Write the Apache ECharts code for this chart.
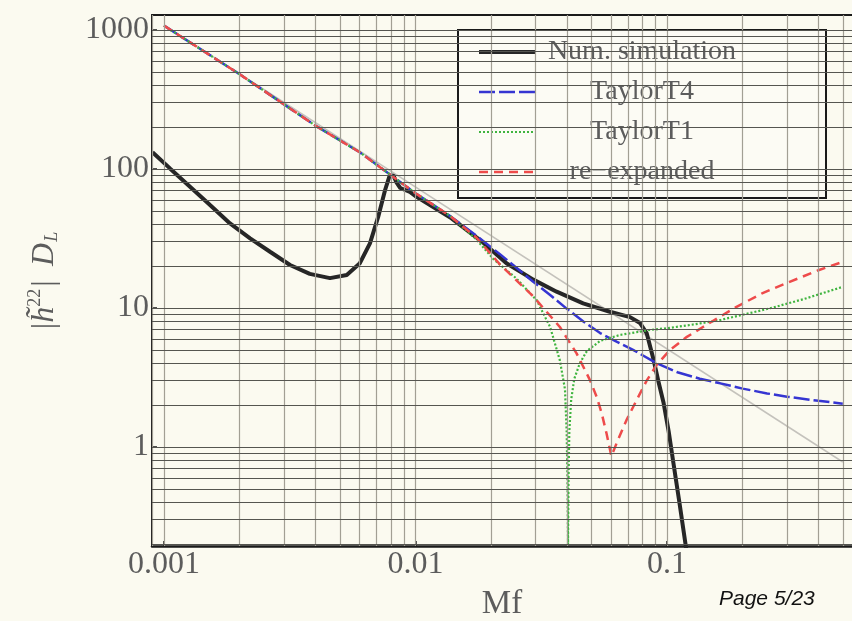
<!DOCTYPE html>
<html>
<head>
<meta charset="utf-8">
<script src="https://cdn.jsdelivr.net/npm/echarts@6/dist/echarts.min.js"></script>
<style>
  html, body { margin: 0; padding: 0; background: #fbfaf0; }
  #chart { width: 852px; height: 621px; }
</style>
</head>
<body>
<div id="chart"></div>
<script>
// Axis ticks (log-log) and the grid values drawn as thin rules
const xTickValues = [0.001, 0.01, 0.1];
const xTickLabels = ['0.001', '0.01', '0.1'];
const yTickValues = [1, 10, 100, 1000];
const yTickLabels = ['1', '10', '100', '1000'];

const xGridValues = [
  0.0009,
  0.001, 0.002, 0.003, 0.004, 0.005, 0.006, 0.007, 0.008, 0.009,
  0.01, 0.02, 0.03, 0.04, 0.05, 0.06, 0.07, 0.08, 0.09,
  0.1, 0.2, 0.3, 0.4, 0.5
];
const yGridValues = [
  0.2, 0.3, 0.4, 0.5, 0.6, 0.7, 0.8, 0.9,
  1, 2, 3, 4, 5, 6, 7, 8, 9,
  10, 20, 30, 40, 50, 60, 70, 80, 90,
  100, 200, 300, 400, 500, 600, 700, 800, 900,
  1000
];

const seriesNames = ['Num. simulation', 'TaylorT4', 'TaylorT1', 're\u2212expanded'];

// Leading-order (Newtonian) power law
const newtonian = [[0.001, 1085], [0.5, 0.78]];

// Numerical-relativity amplitude
const numSimulation = [
  [0.0009, 132], [0.001056, 101], [0.001269, 74.6], [0.001524, 55], [0.00183, 40.6],
  [0.0022, 31.7], [0.00264, 25.4], [0.00317, 20.4], [0.0038, 17.6], [0.00457, 16.4],
  [0.00533, 17.3], [0.00601, 21], [0.00659, 29.2], [0.00711, 45.4], [0.00757, 70.6],
  [0.00787, 88], [0.00817, 90], [0.0084, 80], [0.0087, 73], [0.0095, 68.5],
  [0.0101, 63], [0.0137, 45], [0.0186, 29.5], [0.023, 21], [0.0294, 16],
  [0.0364, 13.1], [0.0464, 10.8], [0.0593, 9.4], [0.0713, 8.6], [0.0781, 7.8],
  [0.083, 6.6], [0.0883, 4.3], [0.0923, 3.0], [0.0968, 2.1], [0.1015, 1.3],
  [0.1059, 0.78], [0.112, 0.4], [0.1195, 0.18]
];

// Post-Newtonian approximants
const taylorT4 = [
  [0.001, 1075], [0.002, 480], [0.004, 205], [0.006, 132], [0.008, 90],
  [0.01, 67], [0.0137, 46], [0.0175, 33], [0.0216, 24.5], [0.0252, 19.5],
  [0.0293, 15.5], [0.0345, 12.3], [0.0399, 9.9], [0.0465, 8.0], [0.0542, 6.6],
  [0.0633, 5.7], [0.0733, 5.0], [0.091, 4.0], [0.11, 3.45], [0.135, 3.1],
  [0.163, 2.87], [0.2, 2.63], [0.25, 2.43], [0.3, 2.3], [0.4, 2.15], [0.5, 2.05]
];

const taylorT1 = [
  [0.001, 1075], [0.002, 480], [0.004, 205], [0.006, 132], [0.008, 90],
  [0.01, 67], [0.0137, 46], [0.0175, 31], [0.0204, 22.5], [0.0252, 16.3],
  [0.0303, 11.4], [0.0343, 7.3], [0.0375, 4.2], [0.0393, 2.6], [0.0399, 1.3],
  [0.0402, 0.6], [0.0404, 0.2], [0.0406, 0.6], [0.0409, 1.3], [0.0416, 2.2],
  [0.0428, 3.1], [0.045, 4.0], [0.048, 4.9], [0.0542, 5.8], [0.065, 6.4],
  [0.0855, 6.95], [0.1028, 7.2], [0.13, 7.65], [0.163, 8.2], [0.257, 9.95],
  [0.35, 11.6], [0.5, 14.2]
];

const reExpanded = [
  [0.001, 1075], [0.002, 480], [0.004, 205], [0.006, 132], [0.008, 90],
  [0.01, 67], [0.0137, 46], [0.0175, 32], [0.0217, 20.5], [0.0294, 12.1],
  [0.0375, 7.3], [0.0437, 4.72], [0.0494, 3.03], [0.0525, 2.3], [0.055, 1.75],
  [0.0575, 1.25], [0.0601, 0.86], [0.0635, 1.1], [0.069, 1.56], [0.075, 2.1],
  [0.083, 3.0], [0.091, 3.9], [0.1028, 5.0], [0.12, 6.2], [0.139, 7.3],
  [0.189, 10.2], [0.24, 12.8], [0.299, 15.1], [0.4, 18.7], [0.5, 21.5]
];

const serif = 'Liberation Serif';
const textGray = '#5c5c5c';

// Line look per curve: colour, width, dash pattern
const curveColors = ['#262626', '#3535d2', '#3fb43f', '#ee4b4b'];
const curveWidths = [4, 2.5, 2.2, 2.5];
const curveDashes = ['solid', [16, 4], [2, 2], [9, 6]];

function tickText(values, labels) {
  return function (v) {
    for (let i = 0; i < values.length; i++) {
      if (Math.abs(Math.log10(v) - Math.log10(values[i])) < 1e-6) return labels[i];
    }
    return '';
  };
}

const gridRules = xGridValues.map(v => ({
  xAxis: v, lineStyle: { color: '#a29f94', width: 1.2, type: 'solid' }
})).concat(yGridValues.map(v => ({
  yAxis: v, lineStyle: { color: '#555550', width: 1.2, type: 'solid' }
})));

function curve(i, data) {
  return {
    name: seriesNames[i],
    type: 'line',
    data: data,
    showSymbol: false,
    symbol: 'none',
    z: 3,
    itemStyle: { color: curveColors[i] },
    lineStyle: { color: curveColors[i], width: curveWidths[i], type: curveDashes[i] }
  };
}

const chart = echarts.init(document.getElementById('chart'), null, { renderer: 'canvas' });

chart.setOption({
  animation: false,
  backgroundColor: '#fbfaf0',
  grid: { left: 152, right: 0, top: 15, bottom: 75, containLabel: false, outerBoundsMode: 'none' },
  xAxis: [{
    type: 'log',
    min: 0.000896,
    max: 0.544,
    position: 'bottom',
    name: 'Mf',
    nameLocation: 'middle',
    nameGap: 42,
    nameTextStyle: { fontFamily: serif, fontSize: 33, color: textGray },
    axisLine: { show: true, lineStyle: { color: '#1a1a1a', width: 2.5 } },
    axisTick: { show: true, inside: true, length: 5, lineStyle: { color: '#1a1a1a', width: 1.5 } },
    axisLabel: {
      show: true, margin: 3, fontFamily: serif, fontSize: 32, color: textGray,
      showMinLabel: false, showMaxLabel: false,
      formatter: tickText(xTickValues, xTickLabels)
    },
    splitLine: { show: false }
  }, {
    type: 'log',
    min: 0.000896,
    max: 0.544,
    position: 'top',
    axisLine: { show: true, lineStyle: { color: '#1a1a1a', width: 2 } },
    axisTick: { show: false },
    axisLabel: { show: false },
    splitLine: { show: false }
  }],
  yAxis: {
    type: 'log',
    min: 0.194,
    max: 1282,
    name: '{bar||}{it|h\u0303}{sup|22}{bar||\u2009 }{it|D}{sub|L}',
    nameLocation: 'middle',
    nameRotate: 90,
    nameGap: 88,
    nameTextStyle: {
      fontFamily: serif, fontSize: 32, color: textGray,
      rich: {
        bar: { fontFamily: serif, fontSize: 32, color: textGray },
        it: { fontFamily: serif, fontSize: 32, fontStyle: 'italic', color: textGray },
        sup: { fontFamily: serif, fontSize: 18, color: textGray, padding: [0, 2, 20, 0] },
        sub: { fontFamily: serif, fontSize: 18, fontStyle: 'italic', color: textGray, padding: [14, 0, 0, 1] }
      }
    },
    axisLine: { show: true, lineStyle: { color: '#1a1a1a', width: 2 } },
    axisTick: { show: true, inside: true, length: 5, lineStyle: { color: '#1a1a1a', width: 1.5 } },
    axisLabel: {
      show: true, margin: 3, fontFamily: serif, fontSize: 32, color: textGray,
      showMinLabel: false, showMaxLabel: false,
      formatter: tickText(yTickValues, yTickLabels)
    },
    splitLine: { show: false }
  },
  legend: {
    orient: 'vertical',
    left: 458,
    top: 30,
    padding: [8, 82, 12, 19],
    itemGap: 12,
    itemWidth: 56,
    itemHeight: 28,
    selectedMode: false,
    backgroundColor: '#fcfbf4',
    borderColor: '#1a1a1a',
    borderWidth: 2,
    // only the line sample is shown beside each name
    data: seriesNames.map((n, i) => ({
      name: n,
      itemStyle: { color: 'rgba(0,0,0,0)', borderWidth: 0, opacity: 0 },
      lineStyle: { color: curveColors[i], width: curveWidths[i], type: curveDashes[i] }
    })),
    formatter: name => '{t|' + name + '}',
    textStyle: {
      fontFamily: serif, fontSize: 28, color: textGray,
      rich: { t: { width: 204, align: 'center', fontFamily: serif, fontSize: 28, lineHeight: 28, color: textGray } }
    }
  },
  graphic: [{
    type: 'text',
    left: 719,
    top: 589,
    style: {
      text: 'Page 5/23',
      fontFamily: 'Liberation Sans',
      fontStyle: 'italic',
      fontSize: 21,
      fill: '#111111'
    }
  }],
  series: [
    {
      name: 'grid',
      type: 'line',
      data: [],
      silent: true,
      z: 1,
      markLine: {
        silent: true,
        animation: false,
        precision: 8,
        symbol: ['none', 'none'],
        label: { show: false },
        emphasis: { disabled: true },
        data: gridRules
      }
    },
    {
      name: 'Newtonian',
      type: 'line',
      data: newtonian,
      showSymbol: false,
      symbol: 'none',
      silent: true,
      z: 2,
      lineStyle: { color: '#c4c2bc', width: 1.5 }
    },
    curve(0, numSimulation),
    curve(1, taylorT4),
    curve(2, taylorT1),
    curve(3, reExpanded)
  ]
});
</script>
</body>
</html>
